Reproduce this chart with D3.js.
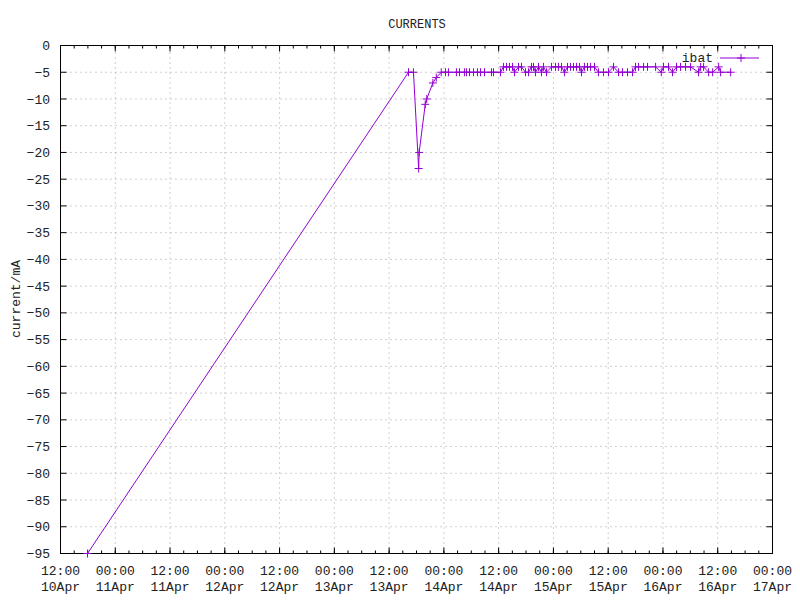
<!DOCTYPE html>
<html>
<head>
<meta charset="utf-8">
<script src="https://cdn.jsdelivr.net/npm/d3@7"></script>
<style>
  body { margin: 0; background: #fff; }
  text { font-family: "Liberation Mono", "DejaVu Sans Mono", monospace; fill: #222; }
  .grid line { stroke: #a0a0a0; stroke-dasharray: 1,4; stroke-width: 1; }
  .axis path { display: none; }
  .axis line { stroke: #000; }
</style>
</head>
<body>
<svg id="chart" width="800" height="600"></svg>
<script>
// ibat samples (time, mA)
var times = [
  "04-10 17:55", "04-13 16:15", "04-13 17:20", "04-13 18:28", "04-13 18:35",
  "04-13 19:55", "04-13 20:15", "04-13 21:35", "04-13 22:20", "04-13 23:25",
  "04-14 00:21", "04-14 01:00", "04-14 02:45", "04-14 03:25", "04-14 04:30",
  "04-14 04:57", "04-14 05:37", "04-14 06:30", "04-14 07:22", "04-14 08:01",
  "04-14 08:54", "04-14 10:26", "04-14 10:52", "04-14 12:24", "04-14 13:03",
  "04-14 13:43", "04-14 14:22", "04-14 15:02", "04-14 15:28", "04-14 16:21",
  "04-14 17:00", "04-14 17:53", "04-14 18:32", "04-14 19:12", "04-14 19:38",
  "04-14 20:04", "04-14 20:44", "04-14 21:23", "04-14 21:49", "04-14 22:29",
  "04-14 23:35", "04-15 00:27", "04-15 01:06", "04-15 01:46", "04-15 02:25",
  "04-15 03:05", "04-15 03:44", "04-15 04:24", "04-15 05:03", "04-15 05:42",
  "04-15 06:09", "04-15 06:48", "04-15 07:28", "04-15 08:07", "04-15 09:00",
  "04-15 09:52", "04-15 10:58", "04-15 12:04", "04-15 13:10", "04-15 14:16",
  "04-15 15:08", "04-15 16:14", "04-15 17:20", "04-15 17:59", "04-15 18:39",
  "04-15 19:45", "04-15 20:37", "04-15 22:23", "04-15 23:38", "04-16 00:07",
  "04-16 01:13", "04-16 02:06", "04-16 02:58", "04-16 03:51", "04-16 04:57",
  "04-16 06:03", "04-16 07:48", "04-16 08:15", "04-16 08:54", "04-16 10:00",
  "04-16 10:53", "04-16 12:12", "04-16 12:38", "04-16 14:50"
];
var ibat = [
  -95, -5, -5, -23, -20,
  -11, -10, -7, -6, -5,
  -5, -5, -5, -5, -5,
  -5, -5, -5, -5, -5,
  -5, -5, -5, -5, -4,
  -4, -4, -4, -5, -4,
  -4, -5, -5, -4, -4,
  -5, -4, -5, -4, -5,
  -4, -4, -4, -4, -5,
  -4, -4, -4, -4, -4,
  -5, -4, -4, -4, -4,
  -5, -5, -5, -4, -5,
  -5, -5, -5, -4, -4,
  -4, -4, -4, -5, -4,
  -4, -5, -4, -4, -4,
  -4, -5, -4, -4, -5,
  -5, -4, -5, -5
];
var xDomain = ["04-10 12:00", "04-17 00:00"];
var yDomain = [-95, 0];
var yTicks = d3.range(-95, 1, 5);

var parse = d3.timeParse("%m-%d %H:%M");
var data = times.map(function(t, i) { return { t: parse(t), v: ibat[i] }; });

var margin = { left: 60, right: 28, top: 45, bottom: 47 },
    width = 800, height = 600,
    color = "#9400d3";

var svg = d3.select("#chart");

var x = d3.scaleTime()
    .domain(xDomain.map(parse))
    .range([margin.left + 0.5, width - margin.right + 0.5]);
var y = d3.scaleLinear()
    .domain(yDomain)
    .range([height - margin.bottom + 0.5, margin.top + 0.5]);

var majorX = d3.timeHour.every(12).range(x.domain()[0], d3.timeMinute.offset(x.domain()[1], 1));
var minorX = d3.timeHour.every(3).range(x.domain()[0], d3.timeMinute.offset(x.domain()[1], 1));

// grid
var grid = svg.append("g").attr("class", "grid");
grid.selectAll("line.gx").data(majorX.slice(1, -1)).enter().append("line")
  .attr("x1", function(d) { return x(d); }).attr("x2", function(d) { return x(d); })
  .attr("y1", y.range()[0]).attr("y2", y.range()[1]);
grid.selectAll("line.gy").data(yTicks.slice(1, -1)).enter().append("line")
  .attr("x1", x.range()[0]).attr("x2", x.range()[1])
  .attr("y1", function(d) { return y(d); }).attr("y2", function(d) { return y(d); });

// ticks (inward, mirrored)
function tickLines(g, vals, len, horizontal) {
  vals.forEach(function(v) {
    if (horizontal) {
      g.append("line").attr("x1", x(v)).attr("x2", x(v)).attr("y1", y.range()[0]).attr("y2", y.range()[0] - len);
      g.append("line").attr("x1", x(v)).attr("x2", x(v)).attr("y1", y.range()[1]).attr("y2", y.range()[1] + len);
    } else {
      g.append("line").attr("y1", y(v)).attr("y2", y(v)).attr("x1", x.range()[0]).attr("x2", x.range()[0] + len);
      g.append("line").attr("y1", y(v)).attr("y2", y(v)).attr("x1", x.range()[1]).attr("x2", x.range()[1] - len);
    }
  });
}
var ticks = svg.append("g").attr("class", "axis");
tickLines(ticks, minorX, 3, true);
tickLines(ticks, majorX, 6, true);
tickLines(ticks, yTicks, 6, false);

// border
svg.append("rect")
  .attr("x", x.range()[0]).attr("y", y.range()[1])
  .attr("width", x.range()[1] - x.range()[0]).attr("height", y.range()[0] - y.range()[1])
  .attr("fill", "none").attr("stroke", "#000");

// tick labels
var fmtTime = d3.timeFormat("%H:%M"), fmtDay = d3.timeFormat("%d%b");
var xl = svg.append("g").attr("font-size", 13).attr("text-anchor", "middle");
majorX.forEach(function(d) {
  var t = xl.append("text").attr("x", x(d)).attr("y", 575);
  t.append("tspan").attr("x", x(d)).text(fmtTime(d));
  t.append("tspan").attr("x", x(d)).attr("dy", 16).text(fmtDay(d));
});
svg.append("g").attr("font-size", 13).attr("text-anchor", "end")
  .selectAll("text").data(yTicks).enter().append("text")
  .attr("x", 50).attr("y", function(d) { return y(d); }).attr("dy", "0.35em")
  .text(function(d) { return d === 0 ? "0" : "\u2212" + Math.abs(d); });

// title and axis label
svg.append("text").attr("x", 417).attr("y", 28).attr("text-anchor", "middle")
  .attr("font-size", 12).text("CURRENTS");
svg.append("text").attr("transform", "translate(20," + 299 + ") rotate(-90)")
  .attr("text-anchor", "middle").attr("font-size", 13).text("current/mA");

// legend
var leg = svg.append("g");
leg.append("text").attr("x", 713).attr("y", 62).attr("text-anchor", "end")
  .attr("font-size", 13).text("ibat");
leg.append("line").attr("x1", 720).attr("x2", 759).attr("y1", 58).attr("y2", 58)
  .attr("stroke", color);
leg.append("path").attr("d", "M737,58h8M741,54v8").attr("stroke", color);

// series
var line = d3.line().x(function(d) { return x(d.t); }).y(function(d) { return y(d.v); });
svg.append("path").datum(data).attr("d", line)
  .attr("fill", "none").attr("stroke", color).attr("stroke-width", 1);
svg.append("g").selectAll("path.pt").data(data).enter().append("path")
  .attr("class", "pt")
  .attr("d", function(d) {
    var px = x(d.t), py = y(d.v);
    return "M" + (px - 4) + "," + py + "h8M" + px + "," + (py - 4) + "v8";
  })
  .attr("stroke", color).attr("stroke-width", 1);
</script>
</body>
</html>
